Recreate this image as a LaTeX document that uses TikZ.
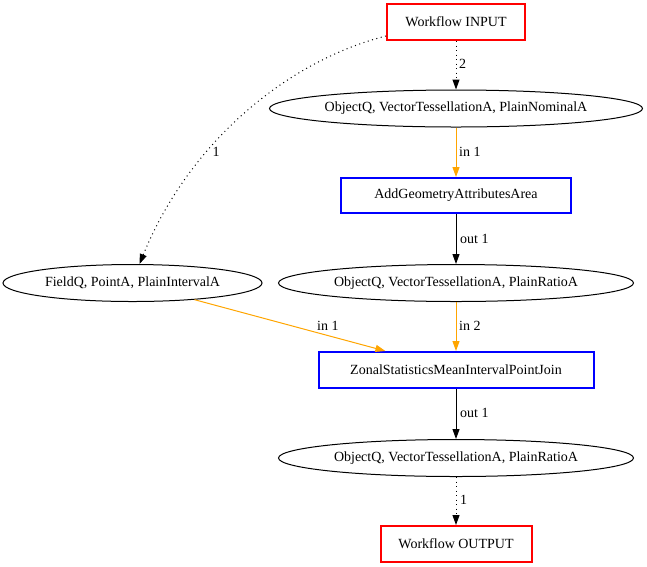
\documentclass[tikz,border=0pt]{standalone}
\usepackage{fontspec}
\setmainfont{Liberation Serif}
\usetikzlibrary{shapes.geometric,arrows.meta}
\definecolor{gvred}{RGB}{255,0,0}
\definecolor{gvblue}{RGB}{0,0,255}
\definecolor{gvorange}{RGB}{255,165,0}
\begin{document}
\begin{tikzpicture}[x=1pt,y=-1pt,
  font=\fontsize{14}{16}\selectfont,
  every node/.style={inner sep=0pt},
  iobox/.style={draw=gvred,line width=2pt,rectangle,minimum height=36pt},
  opbox/.style={draw=gvblue,line width=2pt,rectangle,minimum height=35pt},
  typell/.style={draw=black,line width=1pt,ellipse,minimum height=37pt},
  edge/.style={line width=1pt,-{Triangle[length=10pt,width=7pt]}},
  dotedge/.style={edge,dash pattern=on 1pt off 3.5pt},
  oredge/.style={edge,draw=gvorange,-{Triangle[length=10pt,width=7pt,fill=gvorange]}},
  lab/.style={anchor=west}
]
\useasboundingbox (0,0) rectangle (647,566);
\node[iobox,minimum width=138pt] (input) at (456,22) {Workflow INPUT};
\node[typell,minimum width=373pt] (e1) at (456,108.5) {ObjectQ, VectorTessellationA, PlainNominalA};
\node[opbox,minimum width=230pt] (add) at (456,195.5) {AddGeometryAttributesArea};
\node[typell,minimum width=355pt] (e2) at (456,283) {ObjectQ, VectorTessellationA, PlainRatioA};
\node[typell,minimum width=259pt] (fq) at (132.5,283) {FieldQ, PointA, PlainIntervalA};
\node[opbox,minimum width=275pt,minimum height=36pt] (zonal) at (456,370) {ZonalStatisticsMeanIntervalPointJoin};
\node[typell,minimum width=355pt] (e3) at (456,458) {ObjectQ, VectorTessellationA, PlainRatioA};
\node[iobox,minimum width=151pt] (output) at (456,544) {Workflow OUTPUT};

\coordinate (cs) at ([yshift=5pt]input.south west);
\coordinate (ce) at ([xshift=7pt]fq.north);
\draw[dotedge] (cs) .. controls (290,60) and (190,140) .. (ce);
\node (l1) at (216,152) {1};

\draw[dotedge] (input.south) -- (e1.north);
\node[lab] (l2) at (459,64) {2};
\draw[oredge] (e1.south) -- (add.north);
\node[lab] (l3) at (459,152) {in 1};
\draw[edge] (add.south) -- (e2.north);
\node[lab] (l4) at (460,239) {out 1};
\draw[oredge] (e2.south) -- (zonal.north);
\node[lab] (l5) at (459,326) {in 2};
\draw[oredge] (fq) -- (zonal);
\node[lab] (l6) at (317,326) {in 1};
\draw[edge] (zonal.south) -- (e3.north);
\node[lab] (l7) at (460,413) {out 1};
\draw[dotedge] (e3.south) -- (output.north);
\node[lab] (l8) at (460,500) {1};
\end{tikzpicture}
\end{document}
